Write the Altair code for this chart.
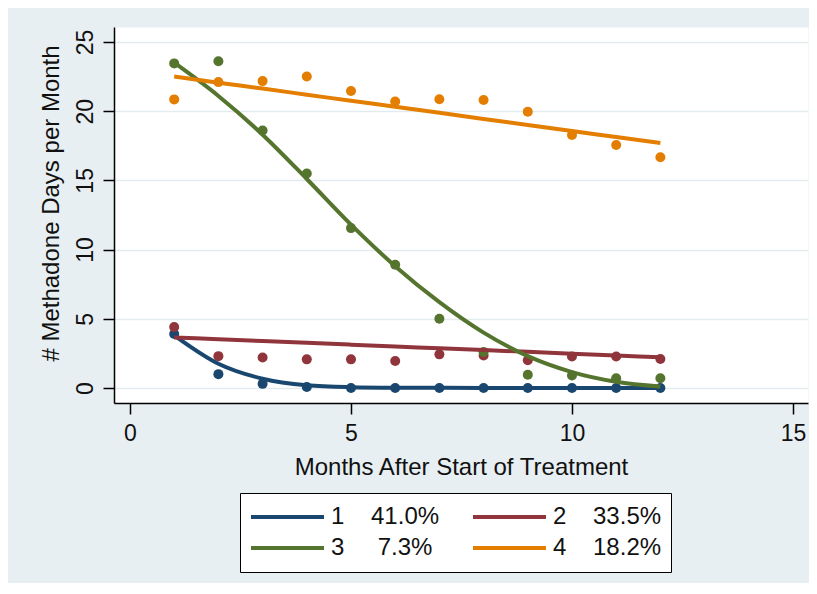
import altair as alt
import pandas as pd

FONT = "Liberation Sans"
TEXT = "#111111"
BG = "#e8eff2"
GRID = "#e2ebee"

months = list(range(1, 13))

NB = "\u00a0"
group_labels = [
    "1" + NB * 4 + "41.0%",
    "2" + NB * 4 + "33.5%",
    "3" + NB * 5 + "7.3%",
    "4" + NB * 4 + "18.2%",
]
group_colors = ["#1a476f", "#90353b", "#55752f", "#e37e00"]

# observed monthly means (points)
obs_1 = [3.9, 1.0, 0.3, 0.07, 0.0, 0.0, 0.0, 0.0, 0.0, 0.0, 0.0, 0.0]
obs_2 = [4.4, 2.3, 2.2, 2.07, 2.07, 1.95, 2.43, 2.35, 2.0, 2.28, 2.28, 2.1]
obs_3 = [23.45, 23.6, 18.6, 15.5, 11.55, 8.9, 5.0, 2.6, 0.96, 0.9, 0.7, 0.7]
obs_4 = [20.85, 22.1, 22.17, 22.5, 21.45, 20.7, 20.86, 20.8, 19.96, 18.28, 17.56, 16.67]

# fitted trajectories (lines)
fit_1 = [3.8, 1.75, 0.67, 0.2, 0.06, 0.02, 0.01, 0.0, 0.0, 0.0, 0.0, 0.0]
fit_2 = [3.65, 3.52, 3.39, 3.26, 3.13, 3.0, 2.87, 2.74, 2.61, 2.48, 2.35, 2.22]
fit_3 = [23.5, 21.1, 18.3, 15.1, 11.8, 8.8, 6.2, 4.0, 2.3, 1.15, 0.45, 0.1]
fit_4 = [22.5, 22.06, 21.63, 21.19, 20.75, 20.32, 19.88, 19.44, 19.0, 18.57, 18.13, 17.7]

x_ticks = [0, 5, 10, 15]
y_ticks = [0, 5, 10, 15, 20, 25]

rows = []
for label, obs, fit in zip(group_labels, [obs_1, obs_2, obs_3, obs_4], [fit_1, fit_2, fit_3, fit_4]):
    for m, o, f in zip(months, obs, fit):
        rows.append({"month": m, "group": label, "observed": o, "fitted": f})
df = pd.DataFrame(rows)

x_scale = alt.Scale(domain=[-0.362, 15.34], nice=False, zero=False)
y_scale = alt.Scale(domain=[-1.084, 26.08], nice=False, zero=False)
color_scale = alt.Scale(domain=group_labels, range=group_colors)

x_axis = alt.Axis(
    values=x_ticks, title="Months After Start of Treatment", grid=False,
    tickSize=11, tickWidth=1.5, tickColor="black",
    domainColor="black", domainWidth=1.5,
    labelFont=FONT, labelFontSize=23, labelColor=TEXT, labelPadding=8,
    titleFont=FONT, titleFontSize=24, titleFontWeight="normal", titleColor=TEXT,
    titleBaseline="alphabetic", titleY=71,
)
y_axis = alt.Axis(
    values=y_ticks, title="# Methadone Days per Month", grid=True,
    gridColor=GRID, gridWidth=1.5,
    tickSize=11, tickWidth=1.5, tickColor="black",
    domainColor="black", domainWidth=1.5,
    labelFont=FONT, labelFontSize=23, labelColor=TEXT, labelPadding=11,
    labelAngle=270, labelAlign="center", labelBaseline="alphabetic",
    titleFont=FONT, titleFontSize=24, titleFontWeight="normal", titleColor=TEXT,
    titleAngle=270, titleAlign="center", titleBaseline="alphabetic",
    titleX=-56, titleY=176,
)

legend = alt.Legend(
    title=None, orient="none", legendX=126, legendY=466,
    direction="horizontal", columns=2,
    symbolType="stroke", symbolSize=5329, symbolStrokeWidth=4,
    labelFont=FONT, labelFontSize=24, labelColor=TEXT, labelOffset=5,
    labelLimit=300, clipHeight=30,
    columnPadding=31, rowPadding=1, padding=9,
    fillColor="white", strokeColor="black",
)

points = alt.Chart(df).mark_circle(size=100, opacity=1).encode(
    x=alt.X("month:Q", scale=x_scale, axis=x_axis),
    y=alt.Y("observed:Q", scale=y_scale, axis=y_axis),
    color=alt.Color("group:N", scale=color_scale, legend=legend),
)

lines = alt.Chart(df).mark_line(strokeWidth=4, interpolate="monotone").encode(
    x=alt.X("month:Q", scale=x_scale, axis=x_axis),
    y=alt.Y("fitted:Q", scale=y_scale, axis=y_axis),
    color=alt.Color("group:N", scale=color_scale, legend=legend),
    order="month:Q",
)

chart = alt.layer(points, lines).properties(
    width=694, height=376,
    background=BG,
    padding={"left": 106, "top": 19, "right": 1, "bottom": 180},
    autosize=alt.AutoSizeParams(type="none"),
).configure_view(fill="white", stroke="transparent")

chart.save("out.html", embed_options={"renderer": "svg", "actions": False})
